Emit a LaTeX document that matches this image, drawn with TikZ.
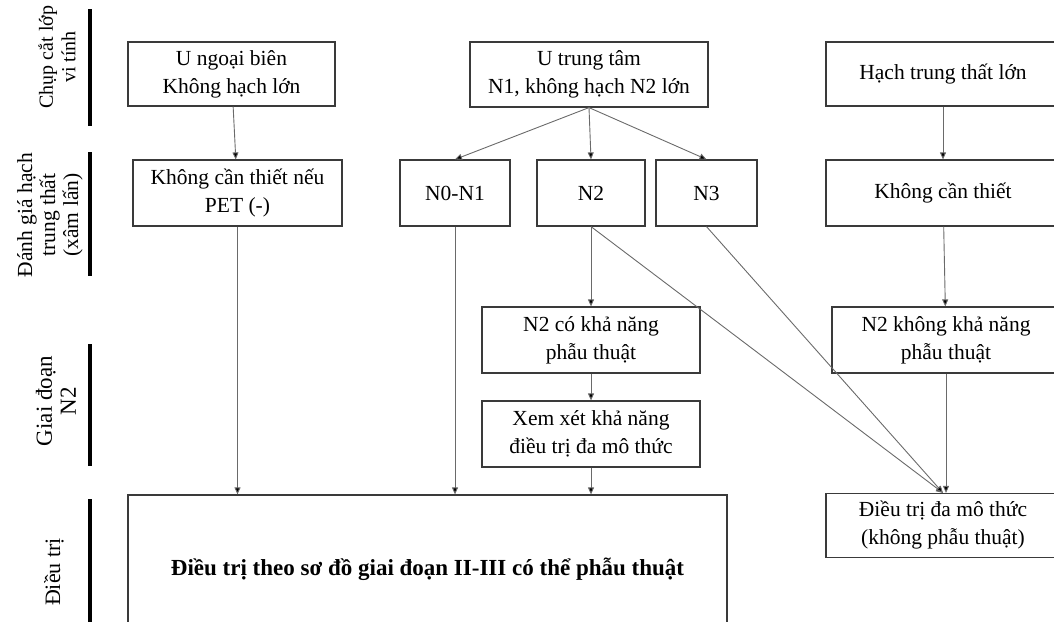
\documentclass[tikz,border=0pt]{standalone}
\usepackage{fontspec}
\setmainfont{Liberation Serif}
\usetikzlibrary{arrows.meta}
\definecolor{boxline}{HTML}{3A3A3A}
\definecolor{arrline}{HTML}{6A6A6A}
\tikzset{
  stagebox/.style={draw=boxline, line width=1.2pt, fill=white, align=center,
    inner sep=2pt, font=\fontsize{21.5}{28}\selectfont},
  flow/.style={draw=arrline, line width=0.9pt,
    -{Triangle[length=7pt,width=6pt,fill=black]}},
  rowbar/.style={line width=3.2pt, black},
  rowlabel/.style={rotate=90, align=center}
}
\newcommand{\boxat}[6]{% name, center x, center y, width, height, text
  \node[stagebox, minimum width=#4pt, minimum height=#5pt] (#1) at (#2,#3) {#6};}
\begin{document}
\begin{tikzpicture}[x=1pt,y=-1pt]
\useasboundingbox (0,0) rectangle (1054,621);

% row bars and row titles
\draw[rowbar] (90,9) -- (90,126);
\draw[rowbar] (90,152) -- (90,276);
\draw[rowbar] (90,344) -- (90,466);
\draw[rowbar] (90,499) -- (90,630);
\node[rowlabel, font=\fontsize{20}{22.5}\selectfont] (lab1) at (57,57) {Chụp cắt lớp\\vi tính};
\node[rowlabel, font=\fontsize{21.5}{23}\selectfont] (lab2) at (50,215) {Đánh giá hạch\\trung thất\\(xâm lấn)};
\node[rowlabel, font=\fontsize{23}{24}\selectfont] (lab3) at (56,401) {Giai đoạn\\N2};
\node[rowlabel, font=\fontsize{22}{26}\selectfont] (lab4) at (54,572) {Điều trị};

% first row
\boxat{b1}{231.5}{74}{207}{64}{U ngoại biên\\Không hạch lớn}
\boxat{b2}{589}{74.5}{238}{65}{U trung tâm\\N1, không hạch N2 lớn}
\boxat{b3}{943}{74}{234}{64}{Hạch trung thất lớn}

% second row
\boxat{b4}{237.5}{193}{209}{66}{Không cần thiết nếu\\PET (-)}
\boxat{n01}{455}{193}{110}{66}{N0-N1}
\boxat{n2}{591}{193}{108}{66}{N2}
\boxat{n3}{706.5}{193}{101}{66}{N3}
\boxat{kct}{943}{193}{234}{66}{Không cần thiết}

% third and fourth rows
\boxat{n2co}{591}{340}{218}{66}{N2 có khả năng\\phẫu thuật}
\boxat{n2kh}{946}{340}{228}{66}{N2 không khả năng\\phẫu thuật}
\boxat{xem}{591}{434}{218}{66}{Xem xét khả năng\\điều trị đa mô thức}
\boxat{dmt}{943}{525.5}{234}{64}{Điều trị đa mô thức\\(không phẫu thuật)}

% treatment box, running off the bottom edge
\node[stagebox, minimum width=599pt, minimum height=148pt,
  font=\fontsize{23}{28}\selectfont\bfseries] (big) at (427.5,569) {Điều trị theo sơ đồ giai đoạn II-III có thể phẫu thuật};

% connectors
\draw[flow] (b1) -- (b4);
\draw[flow] (b2.south) -- (n01.north);
\draw[flow] (b2.south) -- (n2.north);
\draw[flow] (b2.south) -- (n3.north);
\draw[flow] (b3) -- (kct);
\draw[flow] (b4.south) -- (b4.south |- big.north);
\draw[flow] (n01.south) -- (n01.south |- big.north);
\draw[flow] (n2) -- (n2co);
\draw[flow] (n2co) -- (xem);
\draw[flow] (xem.south) -- (xem.south |- big.north);
\draw[flow] (n2.south) -- (dmt.north);
\draw[flow] (n3.south) -- (dmt.north);
\draw[flow] (kct) -- (n2kh);
\draw[flow] (n2kh.south) -- (n2kh.south |- dmt.north);
\end{tikzpicture}
\end{document}
